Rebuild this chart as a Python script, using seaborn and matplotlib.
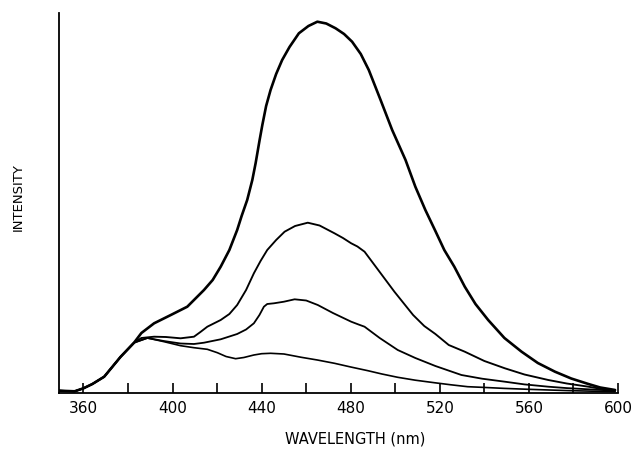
import matplotlib
matplotlib.use("Agg")
import matplotlib.pyplot as plt
import pandas as pd
import seaborn as sns

# Emission spectra (arbitrary intensity units), wavelength in nm
wl_a = [349, 356, 360, 364, 369.3, 376.7, 382.7, 386, 391.7, 399.2, 406.6, 414.1,
        418, 421.6, 425.5, 429, 431, 433.5, 435.8, 437.3, 439, 440.3, 442, 444,
        446.5, 449.2, 452.5, 456.7, 461, 465, 469, 473.2, 477, 480.6, 484.5,
        488.1, 493.4, 498.6, 504.6, 509, 513.5, 518, 522, 526.5, 531.2, 536,
        541.7, 549, 556.7, 564, 571.7, 579, 586.7, 592, 598.7]
int_a = [2.3, 1.7, 4.7, 9, 16.3, 36.3, 50.3, 60, 69.7, 78, 86.3, 103,
         113, 126.3, 143, 163, 177, 193, 213, 230, 252, 268, 287, 303,
         319, 333, 346, 359.7, 367, 371.3, 369.5, 364.7, 359, 351.3, 339,
         323, 293, 263, 233, 206.3, 183, 162, 143, 126.3, 106.3, 89,
         73, 55, 41.3, 30, 21.3, 14.5, 9, 5.5, 3]

wl_b = [349, 356, 360, 364, 369.3, 376.7, 382.7, 386, 391.7, 397, 403.6, 409.6,
        412.5, 415.6, 421.6, 425.5, 429, 433, 436.5, 439.5, 442.5, 446.5, 450.3,
        455, 460.7, 466, 472.7, 476.5, 480.2, 483, 486.2, 492, 499.6, 508, 513,
        518, 524, 531.2, 540, 549.2, 558, 568.7, 577, 586.7, 592, 598.7]
int_b = [2.3, 1.7, 4.7, 9, 16.3, 36.3, 50.3, 55, 56.3, 56, 54.7, 56.3,
         61, 66.3, 73, 79, 88, 103, 119.7, 132, 143, 153, 161.3,
         167, 170.3, 167.5, 159.7, 155, 149.7, 146.5, 141.3, 124, 101.3, 78, 67,
         59, 48, 41.3, 32, 24.7, 18.5, 13, 9.5, 6.3, 4.3, 2.3]

wl_c = [349, 356, 360, 364, 369.3, 376.7, 382.7, 388.7, 396, 403.6, 409.6, 414.1,
        421.6, 429, 433, 436.5, 439, 441, 442.5, 445.5, 450, 454.8, 460, 465.2,
        472, 480.2, 483.5, 486.2, 493, 501.1, 509, 518, 529.7, 539, 549.2,
        558, 568.7, 577, 586.7, 598.7]
int_c = [2.3, 1.7, 4.7, 9, 16.3, 36.3, 50.3, 55, 52, 49.5, 49, 50.3,
         53.7, 59, 63.5, 69.7, 78, 86.3, 89, 89.7, 91.3, 93.7, 92.5, 88,
         80, 71.3, 68.5, 66.3, 55, 43, 35, 27, 18, 14.3, 11.3,
         8.6, 6.3, 4.9, 3.7, 2.3]

wl_d = [349, 356, 360, 364, 369.3, 376.7, 382.7, 388.7, 396.2, 403.6, 409.6, 415.6,
        420.1, 424, 428.3, 432, 436.5, 440, 444, 450, 457.8, 465, 472.7, 480,
        487.7, 494, 501.1, 509, 517.5, 525, 532.5, 538.7, 549, 559.7, 569, 579,
        589, 598.7]
int_d = [2.3, 1.7, 4.7, 9, 16.3, 36.3, 50.3, 55, 51.3, 47.3, 45.3, 43.7,
         40.3, 36.5, 34.3, 35.5, 38, 39.3, 39.7, 39, 35.7, 33, 29.7, 26,
         22.3, 19, 15.7, 12.8, 10.3, 8.2, 6.3, 5.7, 4.6, 3.7, 3, 2.3,
         1.8, 1.3]

major_ticks = [360, 400, 440, 480, 520, 560, 600]
minor_ticks = [380, 420, 460, 500, 540, 580]

sns.set_style("ticks")
plt.rcParams["font.family"] = ["DejaVu Sans"]
plt.rcParams["text.color"] = "black"
plt.rcParams["axes.labelcolor"] = "black"
plt.rcParams["xtick.color"] = "black"
plt.rcParams["ytick.color"] = "black"

fig = plt.figure(figsize=(6.36, 4.5), dpi=100)
ax = fig.add_axes([59 / 636, 57 / 450, 559 / 636, 380 / 450])

spectra = [(wl_a, int_a, 1.9), (wl_b, int_b, 1.35), (wl_c, int_c, 1.3), (wl_d, int_d, 1.2)]
for wl, inten, lw in spectra:
    df = pd.DataFrame({"wavelength": wl, "intensity": inten})
    sns.lineplot(data=df, x="wavelength", y="intensity", ax=ax, color="black",
                 linewidth=lw, estimator=None, sort=False)

ax.set_xlim(349, 600)
ax.set_ylim(0, 380)
ax.set_xticks(major_ticks)
ax.set_xticks(minor_ticks, minor=True)
ax.set_xticklabels([str(t) for t in major_ticks], fontsize=11)
ax.set_yticks([])
ax.tick_params(axis="x", which="both", direction="in", length=7, width=1.2,
               color="black", labelcolor="black", pad=6)

for side in ["top", "right"]:
    ax.spines[side].set_visible(False)
for side in ["left", "bottom"]:
    ax.spines[side].set_linewidth(1.3)
    ax.spines[side].set_color("black")

ax.set_xlabel("WAVELENGTH (nm)", fontsize=10.5, color="black")
ax.xaxis.set_label_coords(0.53, -0.10)
ax.set_ylabel("INTENSITY", fontsize=9.5, color="black")
ax.yaxis.set_label_coords(-0.061, 0.516)

fig.savefig("out.png", dpi=100)
